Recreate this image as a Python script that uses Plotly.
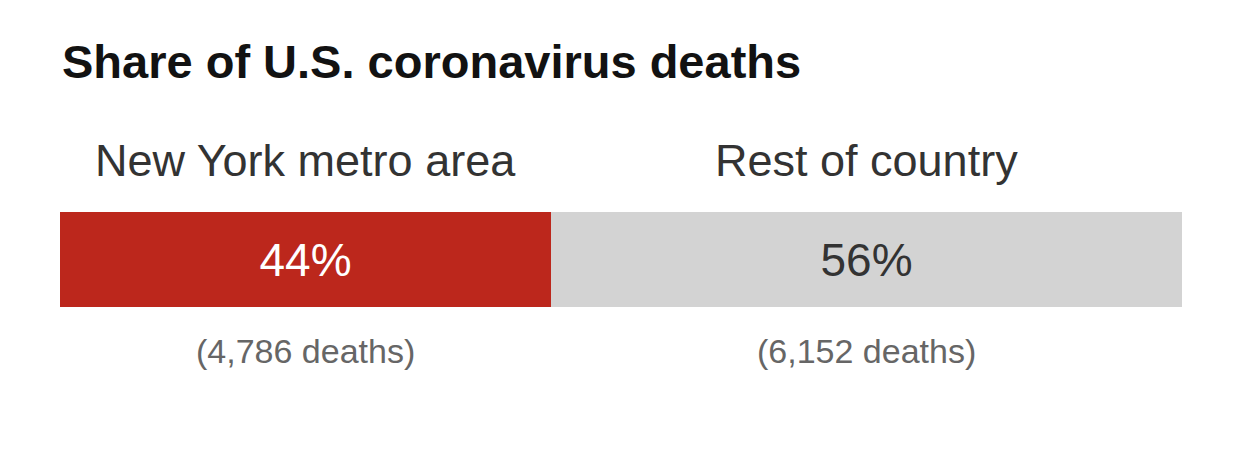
import plotly.graph_objects as go

categories = ["New York metro area", "Rest of country"]
deaths = [4786, 6152]
shares = ["44%", "56%"]
death_labels = ["(4,786 deaths)", "(6,152 deaths)"]
colors = ["#BC271C", "#D3D3D3"]
text_colors = ["#FFFFFF", "#333333"]

FONT = "Liberation Sans, Arial, sans-serif"

fig = go.Figure()
for i, cat in enumerate(categories):
    fig.add_trace(go.Bar(
        x=[deaths[i]], y=["share"], orientation="h",
        marker=dict(color=colors[i], line=dict(width=0)),
        text=[shares[i]], textposition="inside", insidetextanchor="middle",
        textangle=0, constraintext="none",
        textfont=dict(family=FONT, size=46, color=text_colors[i]),
        hoverinfo="skip", name=cat, showlegend=False,
    ))

total = sum(deaths)
start = 0
annotations = []
for i, cat in enumerate(categories):
    center = start + deaths[i] / 2
    start += deaths[i]
    annotations.append(dict(x=center, xref="x", y=1.537, yref="paper",
                            text=cat, showarrow=False, xanchor="center", yanchor="middle",
                            font=dict(family=FONT, size=45, color="#333333")))
    annotations.append(dict(x=center, xref="x", y=-0.463, yref="paper",
                            text=death_labels[i], showarrow=False, xanchor="center", yanchor="middle",
                            font=dict(family=FONT, size=34, color="#666666")))

annotations.append(dict(x=0, xref="paper", y=2.58, yref="paper",
                        text="<b>Share of U.S. coronavirus deaths</b>", showarrow=False,
                        xanchor="left", yanchor="middle",
                        font=dict(family=FONT, size=47, color="#121212")))

fig.update_layout(
    width=1242, height=450, barmode="stack", bargap=0,
    margin=dict(l=52, r=68, t=204, b=151, pad=0),
    paper_bgcolor="white", plot_bgcolor="white",
    xaxis=dict(range=[0, total], visible=False, fixedrange=True),
    yaxis=dict(range=[-0.5, 0.5], visible=False, fixedrange=True),
    annotations=annotations,
    uniformtext=dict(mode=False),
)

fig.write_html("out.html", config={"displayModeBar": False})
